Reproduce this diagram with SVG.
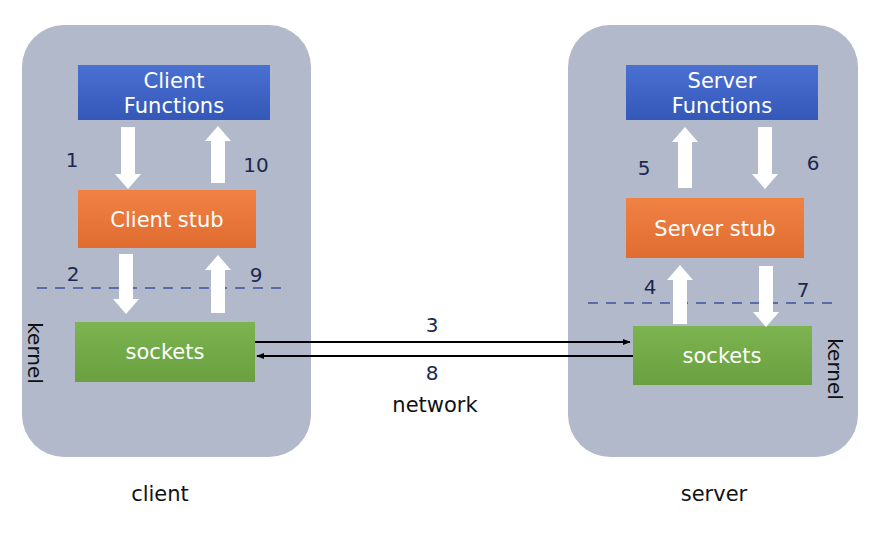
<svg xmlns="http://www.w3.org/2000/svg" width="880" height="534" viewBox="0 0 880 534">
<defs>
<linearGradient id="gb" x1="0" y1="0" x2="0" y2="1"><stop offset="0" stop-color="#4a70d2"/><stop offset="1" stop-color="#3458b8"/></linearGradient>
<linearGradient id="go" x1="0" y1="0" x2="0" y2="1"><stop offset="0" stop-color="#f08244"/><stop offset="1" stop-color="#e06c30"/></linearGradient>
<linearGradient id="gg" x1="0" y1="0" x2="0" y2="1"><stop offset="0" stop-color="#7cb450"/><stop offset="1" stop-color="#6aa040"/></linearGradient>
<marker id="ah" viewBox="0 0 10 10" refX="9" refY="5" markerWidth="8" markerHeight="8" markerUnits="userSpaceOnUse" orient="auto"><path d="M0,1 L10,5 L0,9 z" fill="#000"/></marker>
</defs>
<style>
.panel{fill:#b1b9ca}
.box{font-family:"DejaVu Sans","Open Sans",sans-serif;font-size:21px;fill:#fff;text-anchor:middle}
.num{font-family:"DejaVu Sans","Open Sans",sans-serif;font-size:20px;fill:#1c2850;text-anchor:middle}
.lbl{font-family:"DejaVu Sans","Open Sans",sans-serif;font-size:21px;fill:#111;text-anchor:middle}
.dash{stroke:#5b6aa8;stroke-width:2;stroke-dasharray:10,8;fill:none}
.warrow{fill:#fff}
.conn{stroke:#000;stroke-width:2;fill:none}
</style>
<rect class="panel" x="22" y="25" width="289" height="432" rx="42"/>
<rect class="panel" x="568" y="25" width="290" height="432" rx="42"/>

<g id="client-functions">
<rect x="78" y="65" width="192" height="55" fill="url(#gb)"/>
<text class="box" x="174" y="88">Client</text>
<text class="box" x="174" y="113">Functions</text>
</g>
<g id="client-stub">
<rect x="78" y="190" width="178" height="58" fill="url(#go)"/>
<text class="box" x="167" y="227">Client stub</text>
</g>
<g id="client-sockets">
<rect x="75" y="322" width="180" height="60" fill="url(#gg)"/>
<text class="box" x="165" y="359">sockets</text>
</g>
<g id="server-functions">
<rect x="626" y="65" width="192" height="55" fill="url(#gb)"/>
<text class="box" x="722" y="88">Server</text>
<text class="box" x="722" y="113">Functions</text>
</g>
<g id="server-stub">
<rect x="626" y="198" width="178" height="60" fill="url(#go)"/>
<text class="box" x="715" y="236">Server stub</text>
</g>
<g id="server-sockets">
<rect x="633" y="326" width="179" height="59" fill="url(#gg)"/>
<text class="box" x="722" y="363">sockets</text>
</g>

<line class="dash" x1="37" y1="288" x2="288" y2="288"/>
<line class="dash" x1="588" y1="303" x2="838" y2="303"/>

<g id="connectors">
<path class="warrow" d="M121,127 H135 V174 H141 L128,189 L115,174 H121 Z"/>
<path class="warrow" d="M211,183 H225 V141 H231 L218,126 L205,141 H211 Z"/>
<path class="warrow" d="M119,254 H133 V299 H139 L126,314 L113,299 H119 Z"/>
<path class="warrow" d="M211,313 H225 V270 H231 L218,255 L205,270 H211 Z"/>
<path class="warrow" d="M678,188 H692 V142 H698 L685,127 L672,142 H678 Z"/>
<path class="warrow" d="M758,127 H772 V174 H778 L765,189 L752,174 H758 Z"/>
<path class="warrow" d="M673,324 H687 V280 H693 L680,265 L667,280 H673 Z"/>
<path class="warrow" d="M759,266 H773 V312 H779 L766,327 L753,312 H759 Z"/>
<line class="conn" x1="255" y1="342" x2="630" y2="342" marker-end="url(#ah)"/>
<line class="conn" x1="633" y1="356" x2="257" y2="356" marker-end="url(#ah)"/>
</g>

<text class="num" x="72" y="167">1</text>
<text class="num" x="256" y="172">10</text>
<text class="num" x="73" y="281">2</text>
<text class="num" x="256" y="282">9</text>
<text class="num" x="644" y="175">5</text>
<text class="num" x="813" y="170">6</text>
<text class="num" x="650" y="294">4</text>
<text class="num" x="803" y="297">7</text>
<text class="num" x="432" y="332">3</text>
<text class="num" x="432" y="380">8</text>
<text class="lbl" x="435" y="412">network</text>
<text class="lbl" x="160" y="501">client</text>
<text class="lbl" x="714" y="501">server</text>
<text class="lbl" transform="translate(28,353) rotate(90)" style="font-size:20px">kernel</text>
<text class="lbl" transform="translate(828,369) rotate(90)" style="font-size:20px">kernel</text>
</svg>
